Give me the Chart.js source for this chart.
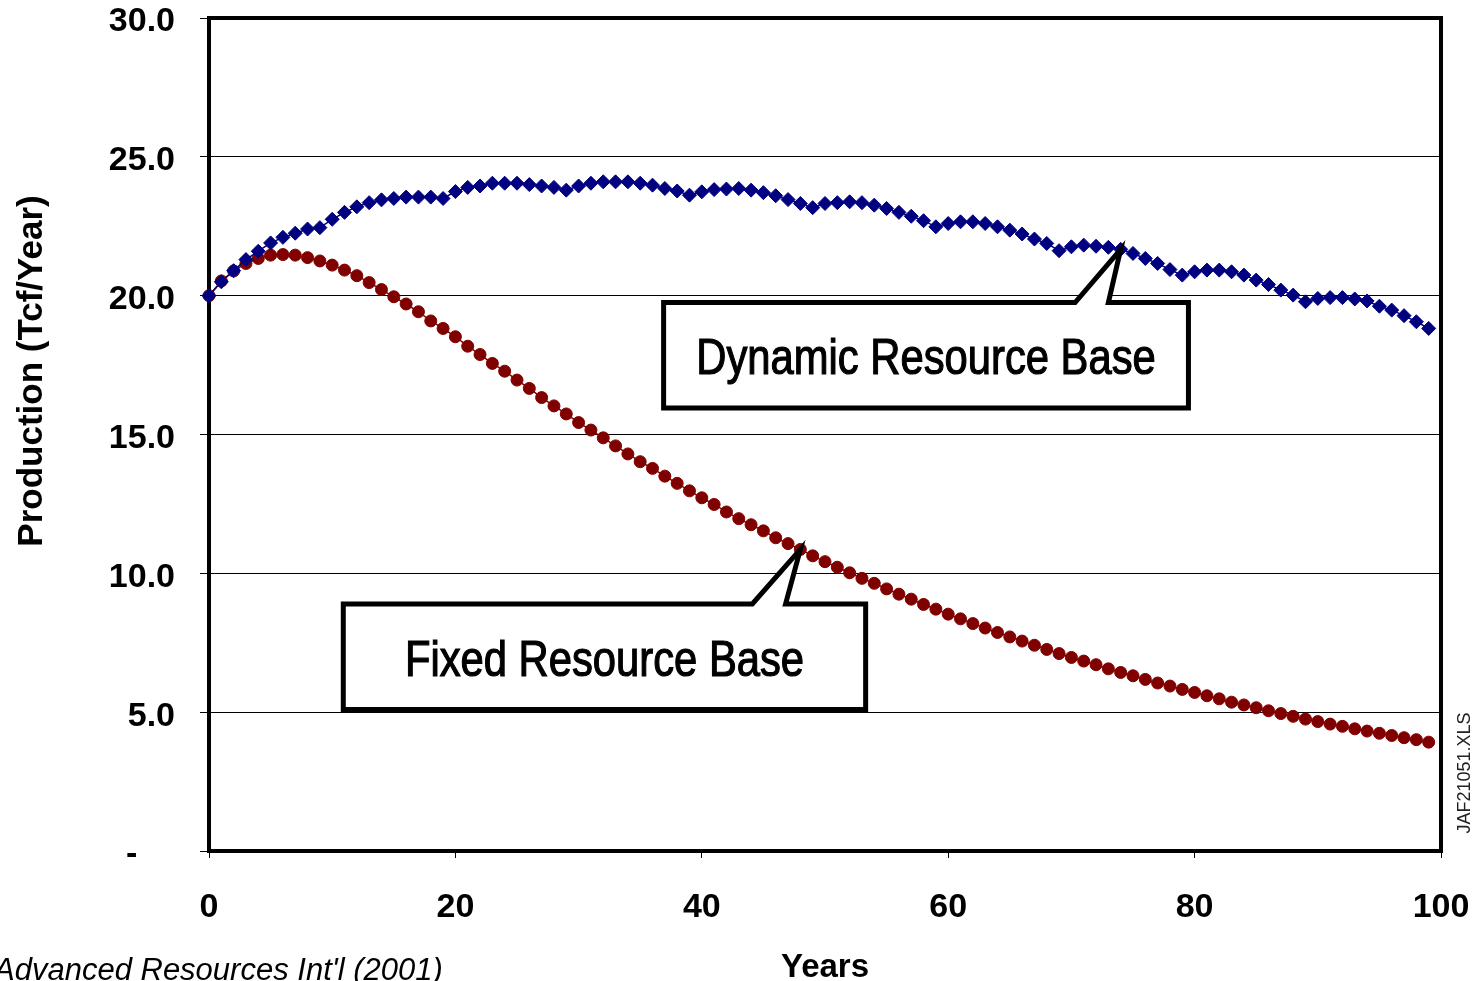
<!DOCTYPE html>
<html>
<head>
<meta charset="utf-8">
<script src="https://cdn.jsdelivr.net/npm/chart.js@4"></script>
<style>
  html, body { margin: 0; padding: 0; background: #fff; }
</style>
</head>
<body>
<canvas id="myChart" width="1475" height="981"></canvas>
<script>
// years on the x axis
const years = [
  0, 1, 2, 3, 4, 5, 6, 7, 8, 9, 10, 11, 12, 13, 14, 15, 16, 17, 18, 19,
  20, 21, 22, 23, 24, 25, 26, 27, 28, 29, 30, 31, 32, 33, 34, 35, 36, 37, 38, 39,
  40, 41, 42, 43, 44, 45, 46, 47, 48, 49, 50, 51, 52, 53, 54, 55, 56, 57, 58, 59,
  60, 61, 62, 63, 64, 65, 66, 67, 68, 69, 70, 71, 72, 73, 74, 75, 76, 77, 78, 79,
  80, 81, 82, 83, 84, 85, 86, 87, 88, 89, 90, 91, 92, 93, 94, 95, 96, 97, 98, 99
];

// production, Tcf/year
const dynamicBase = [
  20.0, 20.5, 20.9, 21.3, 21.6, 21.9, 22.1, 22.25, 22.4, 22.45,
  22.75, 23.0, 23.2, 23.35, 23.45, 23.5, 23.55, 23.55, 23.55, 23.5,
  23.75, 23.9, 23.95, 24.05, 24.05, 24.05, 24.0, 23.95, 23.9, 23.8,
  23.95, 24.05, 24.1, 24.1, 24.1, 24.05, 23.98, 23.86, 23.77, 23.62,
  23.74, 23.82, 23.84, 23.86, 23.8, 23.71, 23.6, 23.46, 23.32, 23.17,
  23.32, 23.35, 23.38, 23.35, 23.26, 23.14, 23.0, 22.86, 22.7, 22.48,
  22.6, 22.66, 22.66, 22.6, 22.48, 22.36, 22.22, 22.04, 21.88, 21.62,
  21.76, 21.82, 21.78, 21.74, 21.67, 21.52, 21.34, 21.16, 20.94, 20.74,
  20.86, 20.92, 20.92, 20.86, 20.74, 20.56, 20.4, 20.2, 20.02, 19.78,
  19.9, 19.93, 19.93, 19.88, 19.81, 19.62, 19.48, 19.28, 19.06, 18.82
];

const fixedBase = [
  20.0, 20.53, 20.89, 21.16, 21.34, 21.46, 21.48, 21.46, 21.37, 21.25,
  21.1, 20.92, 20.72, 20.47, 20.22, 19.96, 19.7, 19.42, 19.09, 18.82,
  18.52, 18.18, 17.88, 17.56, 17.28, 16.96, 16.66, 16.33, 16.03, 15.74,
  15.43, 15.16, 14.88, 14.59, 14.3, 14.02, 13.78, 13.5, 13.24, 12.97,
  12.72, 12.48, 12.21, 11.97, 11.75, 11.53, 11.28, 11.07, 10.86, 10.63,
  10.42, 10.22, 10.02, 9.82, 9.64, 9.44, 9.25, 9.07, 8.88, 8.71,
  8.53, 8.36, 8.19, 8.03, 7.87, 7.71, 7.56, 7.41, 7.26, 7.11,
  6.97, 6.84, 6.71, 6.56, 6.43, 6.31, 6.18, 6.05, 5.94, 5.82,
  5.71, 5.59, 5.48, 5.36, 5.26, 5.16, 5.05, 4.95, 4.85, 4.75,
  4.66, 4.57, 4.49, 4.4, 4.32, 4.24, 4.16, 4.08, 4.01, 3.92
];

const seriesNames = ['Dynamic Resource Base', 'Fixed Resource Base'];

const xTicks = [0, 20, 40, 60, 80, 100];
const yTicks = [0, 5, 10, 15, 20, 25, 30];

const toPoints = (vals) => vals.map((v, i) => ({ x: years[i], y: v }));

// callout boxes, in data units: box = [x0, x1, yTop, yBottom], base = pointer foot on top edge
const callouts = [
  { dataset: 0, index: 74, box: [36.9, 79.5, 19.75, 15.95], base: [70.3, 73.0] },
  { dataset: 1, index: 48, box: [10.9, 53.3, 8.9, 5.1], base: [44.1, 46.8] }
];

const boldFont = "'Liberation Sans', Arial, sans-serif";

function noPad(scale) {
  scale.paddingTop = 0;
  scale.paddingBottom = 0;
  scale.paddingLeft = 0;
  scale.paddingRight = 0;
}

const framePlugin = {
  id: 'frame',
  beforeDatasetsDraw(chart) {
    const { ctx, chartArea: a } = chart;
    ctx.save();
    ctx.strokeStyle = '#000';
    ctx.lineWidth = 4;
    ctx.strokeRect(a.left, a.top, a.right - a.left, a.bottom - a.top);
    ctx.restore();
  }
};

const calloutPlugin = {
  id: 'callouts',
  afterDatasetsDraw(chart) {
    const { ctx } = chart;
    const xs = chart.scales.x, ys = chart.scales.y;
    callouts.forEach(c => {
      const pt = chart.getDatasetMeta(c.dataset).data[c.index];
      const left = xs.getPixelForValue(c.box[0]);
      const right = xs.getPixelForValue(c.box[1]);
      const top = ys.getPixelForValue(c.box[2]);
      const bottom = ys.getPixelForValue(c.box[3]);
      const b0 = xs.getPixelForValue(c.base[0]);
      const b1 = xs.getPixelForValue(c.base[1]);
      ctx.save();
      ctx.beginPath();
      ctx.moveTo(left, top);
      ctx.lineTo(b0, top);
      ctx.lineTo(pt.x, pt.y);
      ctx.lineTo(b1, top);
      ctx.lineTo(right, top);
      ctx.lineTo(right, bottom);
      ctx.lineTo(left, bottom);
      ctx.closePath();
      ctx.fillStyle = '#fff';
      ctx.fill();
      ctx.lineWidth = 5;
      ctx.lineJoin = 'miter';
      ctx.strokeStyle = '#000';
      ctx.stroke();

      // narrow face: Arial-metric sans squeezed horizontally
      ctx.font = "50px 'Liberation Sans', Arial, sans-serif";
      ctx.fillStyle = '#000';
      ctx.strokeStyle = '#000';
      ctx.lineWidth = 1.2;
      ctx.textAlign = 'center';
      ctx.textBaseline = 'alphabetic';
      ctx.translate((left + right) / 2, (top + bottom) / 2 + 19);
      ctx.scale(0.835, 1);
      ctx.fillText(seriesNames[c.dataset], 0, 0);
      ctx.strokeText(seriesNames[c.dataset], 0, 0);
      ctx.restore();
    });
  },
  afterDraw(chart) {
    const { ctx } = chart;
    ctx.save();
    ctx.fillStyle = '#000';
    ctx.font = "bold 35px 'Liberation Sans', Arial, sans-serif";
    ctx.textAlign = 'center';
    ctx.textBaseline = 'middle';
    ctx.translate(32, 371);
    ctx.rotate(-Math.PI / 2);
    ctx.fillText('Production (Tcf/Year)', 0, 0);
    ctx.restore();

    ctx.save();
    ctx.fillStyle = '#000';
    ctx.font = "italic 31px 'Liberation Sans', Arial, sans-serif";
    ctx.textAlign = 'left';
    ctx.textBaseline = 'alphabetic';
    ctx.fillText("Advanced Resources Int'l (2001)", -6, 980);

    ctx.translate(1465, 773);
    ctx.rotate(-Math.PI / 2);
    ctx.font = "18px 'Liberation Sans', Arial, sans-serif";
    ctx.fillStyle = '#222';
    ctx.textAlign = 'center';
    ctx.textBaseline = 'middle';
    ctx.fillText('JAF21051.XLS', 0, 0);
    ctx.restore();
  }
};

const ctx = document.getElementById('myChart');

new Chart(ctx, {
  type: 'line',
  data: {
    datasets: [
      {
        label: seriesNames[0],
        data: toPoints(dynamicBase),
        borderColor: '#000080',
        backgroundColor: '#000080',
        borderWidth: 1.5,
        pointStyle: 'rectRot',
        pointRadius: 7,
        pointBorderWidth: 1,
        tension: 0,
        clip: false
      },
      {
        label: seriesNames[1],
        data: toPoints(fixedBase),
        borderColor: '#800000',
        backgroundColor: '#800000',
        borderWidth: 1.5,
        pointStyle: 'circle',
        pointRadius: 6,
        pointBorderWidth: 1,
        tension: 0,
        clip: false
      }
    ]
  },
  options: {
    responsive: false,
    animation: false,
    layout: { padding: { top: 18, right: 34, left: 0, bottom: 0 } },
    plugins: {
      legend: { display: false },
      tooltip: { enabled: false }
    },
    scales: {
      x: {
        type: 'linear',
        min: xTicks[0],
        max: xTicks[xTicks.length - 1],
        afterFit(scale) { scale.height = 130; noPad(scale); },
        afterBuildTicks(scale) { scale.ticks = xTicks.map(v => ({ value: v })); },
        grid: { drawOnChartArea: false, drawTicks: true, tickLength: 7, color: '#000', lineWidth: 1 },
        border: { display: false },
        ticks: {
          padding: 29,
          color: '#000',
          font: { family: boldFont, size: 34, weight: 'bold' },
          maxRotation: 0
        },
        title: {
          display: true,
          text: 'Years',
          color: '#000',
          font: { family: boldFont, size: 33, weight: 'bold', lineHeight: 0.8 },
          padding: { top: 0, bottom: 0 }
        }
      },
      y: {
        min: yTicks[0],
        max: yTicks[yTicks.length - 1],
        afterFit(scale) { scale.width = 209; noPad(scale); },
        afterBuildTicks(scale) { scale.ticks = yTicks.map(v => ({ value: v })); },
        grid: { drawOnChartArea: true, drawTicks: true, tickLength: 9, color: '#000', lineWidth: 1 },
        border: { display: false },
        ticks: {
          padding: 25,
          labelOffset: 4,
          color: '#000',
          font: { family: boldFont, size: 34, weight: 'bold' },
          callback: (v) => v === 0 ? '-    ' : v.toFixed(1)
        },
        title: { display: false }
      }
    }
  },
  plugins: [framePlugin, calloutPlugin]
});
</script>
</body>
</html>
